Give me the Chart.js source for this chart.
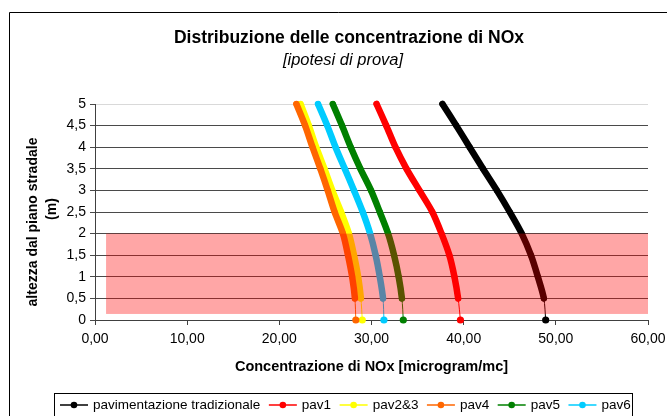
<!DOCTYPE html>
<html>
<head>
<meta charset="utf-8">
<script src="https://cdn.jsdelivr.net/npm/chart.js@4/dist/chart.umd.min.js"></script>
<style>
  html, body { margin: 0; padding: 0; background: #ffffff; }
  #wrap { width: 667px; height: 416px; }
</style>
</head>
<body>
<div id="wrap"><canvas id="c" width="667" height="416"></canvas></div>
<script>
// Heights above the road surface (m)
const heights = [0, 0.5, 1, 1.5, 2, 2.5, 3, 3.5, 4, 4.5, 5];

// NOx concentration (microgram/mc) at each height
const tradizionale = [48.9, 48.7, 48.05, 47.3, 46.3, 45.0, 43.6, 42.1, 40.65, 39.2, 37.7];
const pav1         = [39.65, 39.4, 39.0, 38.45, 37.6, 36.6, 35.2, 33.8, 32.6, 31.6, 30.55];
const pav23        = [29.0, 28.85, 28.55, 28.1, 27.55, 26.7, 25.75, 24.9, 24.0, 23.2, 22.3];
const pav4         = [28.3, 28.2, 27.9, 27.45, 26.9, 26.0, 25.25, 24.45, 23.6, 22.8, 21.85];
const pav5         = [33.45, 33.3, 32.95, 32.45, 31.8, 30.9, 29.95, 28.8, 27.75, 26.8, 25.8];
const pav6         = [31.35, 31.25, 30.9, 30.45, 29.85, 29.05, 28.1, 27.1, 26.1, 25.2, 24.2];

const seriesNames  = ['pavimentazione tradizionale', 'pav1', 'pav2&3', 'pav4', 'pav5', 'pav6'];
const seriesValues = [tradizionale, pav1, pav23, pav4, pav5, pav6];
const seriesColors = ['#000000', '#FF0000', '#FFFF00', '#FF6600', '#008000', '#00CCFF'];

// Axis ticks
const xTicks = [0, 10, 20, 30, 40, 50, 60];
const yTicks = [0, 0.5, 1, 1.5, 2, 2.5, 3, 3.5, 4, 4.5, 5];

// Breathing zone band (x from..to, height from..to)
const bandX = [1.2, 60];
const bandY = [0.14, 2];

const FONT = '"Liberation Sans", Arial, sans-serif';

const datasets = seriesValues.map((vals, i) => ({
  label: seriesNames[i],
  data: vals.map((v, k) => ({ x: v, y: heights[k] })),
  borderColor: seriesColors[i],
  backgroundColor: seriesColors[i],
  borderWidth: 6.5,
  segment: { borderWidth: c => (c.p0DataIndex === 0 ? 1 : 6.5) },
  borderCapStyle: 'round',
  borderJoinStyle: 'round',
  tension: 0.3,
  pointRadius: c => (c.dataIndex === 0 ? 3.6 : 3),
  pointBorderWidth: 0,
  pointHoverRadius: 3.6,
  fill: false,
  clip: false,
  order: 10 - i
}));

const decorPlugin = {
  id: 'decor',
  beforeDraw(chart) {
    const ctx = chart.ctx;
    ctx.save();
    ctx.fillStyle = '#ffffff';
    ctx.fillRect(0, 0, chart.width, chart.height);
    ctx.restore();
  },
  afterDatasetsDraw(chart) {
    const { ctx, scales: { x, y } } = chart;
    const x0 = x.getPixelForValue(bandX[0]);
    const x1 = x.getPixelForValue(bandX[1]);
    const y0 = y.getPixelForValue(bandY[1]);
    const y1 = y.getPixelForValue(bandY[0]);
    ctx.save();
    ctx.fillStyle = 'rgba(255, 0, 0, 0.35)';
    ctx.fillRect(x0, y0, x1 - x0, y1 - y0);
    ctx.restore();
  },
  afterDraw(chart) {
    const ctx = chart.ctx;
    ctx.save();
    // outer frame
    ctx.strokeStyle = '#000000';
    ctx.lineWidth = 1;
    ctx.beginPath();
    ctx.moveTo(9.5, 420);
    ctx.lineTo(9.5, 12.5);
    ctx.lineTo(670, 12.5);
    ctx.stroke();

    // titles
    ctx.fillStyle = '#000000';
    ctx.textAlign = 'center';
    ctx.textBaseline = 'middle';
    ctx.font = 'bold 17.5px ' + FONT;
    ctx.fillText('Distribuzione delle concentrazione di NOx', 349, 38);
    ctx.font = 'italic 16.5px ' + FONT;
    ctx.fillText('[ipotesi di prova]', 343, 60);

    // vertical axis title, two rotated lines
    ctx.font = 'bold 14px ' + FONT;
    ctx.save();
    ctx.translate(33, 222);
    ctx.rotate(-Math.PI / 2);
    ctx.fillText('altezza dal piano stradale', 0, 0);
    ctx.restore();
    ctx.save();
    ctx.translate(52, 209);
    ctx.rotate(-Math.PI / 2);
    ctx.fillText('(m)', 0, 0);
    ctx.restore();

    // legend
    const ly = 405;
    ctx.font = '13.5px ' + FONT;
    ctx.textAlign = 'left';
    let lx = 60;
    seriesNames.forEach((name, i) => {
      ctx.strokeStyle = seriesColors[i];
      ctx.fillStyle = seriesColors[i];
      ctx.lineWidth = 1.5;
      ctx.beginPath();
      ctx.moveTo(lx, ly);
      ctx.lineTo(lx + 28, ly);
      ctx.stroke();
      ctx.beginPath();
      ctx.arc(lx + 14, ly, 3.3, 0, Math.PI * 2);
      ctx.fill();
      lx += 33;
      ctx.fillStyle = '#000000';
      ctx.fillText(name, lx, ly);
      lx += ctx.measureText(name).width + 8.5;
    });
    ctx.strokeStyle = '#000000';
    ctx.lineWidth = 1;
    ctx.strokeRect(54.5, 393.5, 578, 30);
    ctx.restore();
  }
};

new Chart(document.getElementById('c'), {
  type: 'line',
  data: { datasets },
  options: {
    responsive: false,
    animation: false,
    devicePixelRatio: 1,
    layout: { padding: { top: 104, right: 19, left: 0, bottom: 0 } },
    plugins: {
      legend: { display: false },
      title: { display: false },
      tooltip: { enabled: false }
    },
    scales: {
      x: {
        type: 'linear',
        min: 0,
        max: 60,
        afterBuildTicks: s => { s.ticks = xTicks.map(v => ({ value: v })); },
        afterFit: s => { s.height = 96; s.paddingLeft = 0; s.paddingRight = 0; },
        ticks: {
          callback: v => v.toFixed(2).replace('.', ','),
          font: { family: FONT, size: 14 },
          color: '#000000',
          padding: 6,
          maxRotation: 0,
          autoSkip: false
        },
        grid: { drawOnChartArea: false, drawTicks: true, tickLength: 5, color: '#404040' },
        border: { display: true, color: '#404040', width: 1 },
        title: {
          display: true,
          text: 'Concentrazione di NOx [microgram/mc]',
          color: '#000000',
          font: { family: FONT, size: 14.5, weight: 'bold' },
          padding: { top: 0, bottom: 40 }
        }
      },
      y: {
        type: 'linear',
        min: 0,
        max: 5,
        afterBuildTicks: s => { s.ticks = yTicks.map(v => ({ value: v })); },
        afterFit: s => { s.width = 95; s.paddingTop = 0; s.paddingBottom = 0; },
        ticks: {
          callback: v => String(v).replace('.', ','),
          font: { family: FONT, size: 14 },
          color: '#000000',
          padding: 4,
          autoSkip: false
        },
        grid: {
          color: c => (c.tick && c.tick.value === 5 ? '#d9d9d9' : '#4a4a4a'),
          tickColor: '#4a4a4a',
          drawTicks: true,
          tickLength: 5,
          lineWidth: 1
        },
        border: { display: true, color: '#404040', width: 1 },
        title: { display: false }
      }
    }
  },
  plugins: [decorPlugin]
});
</script>
</body>
</html>
